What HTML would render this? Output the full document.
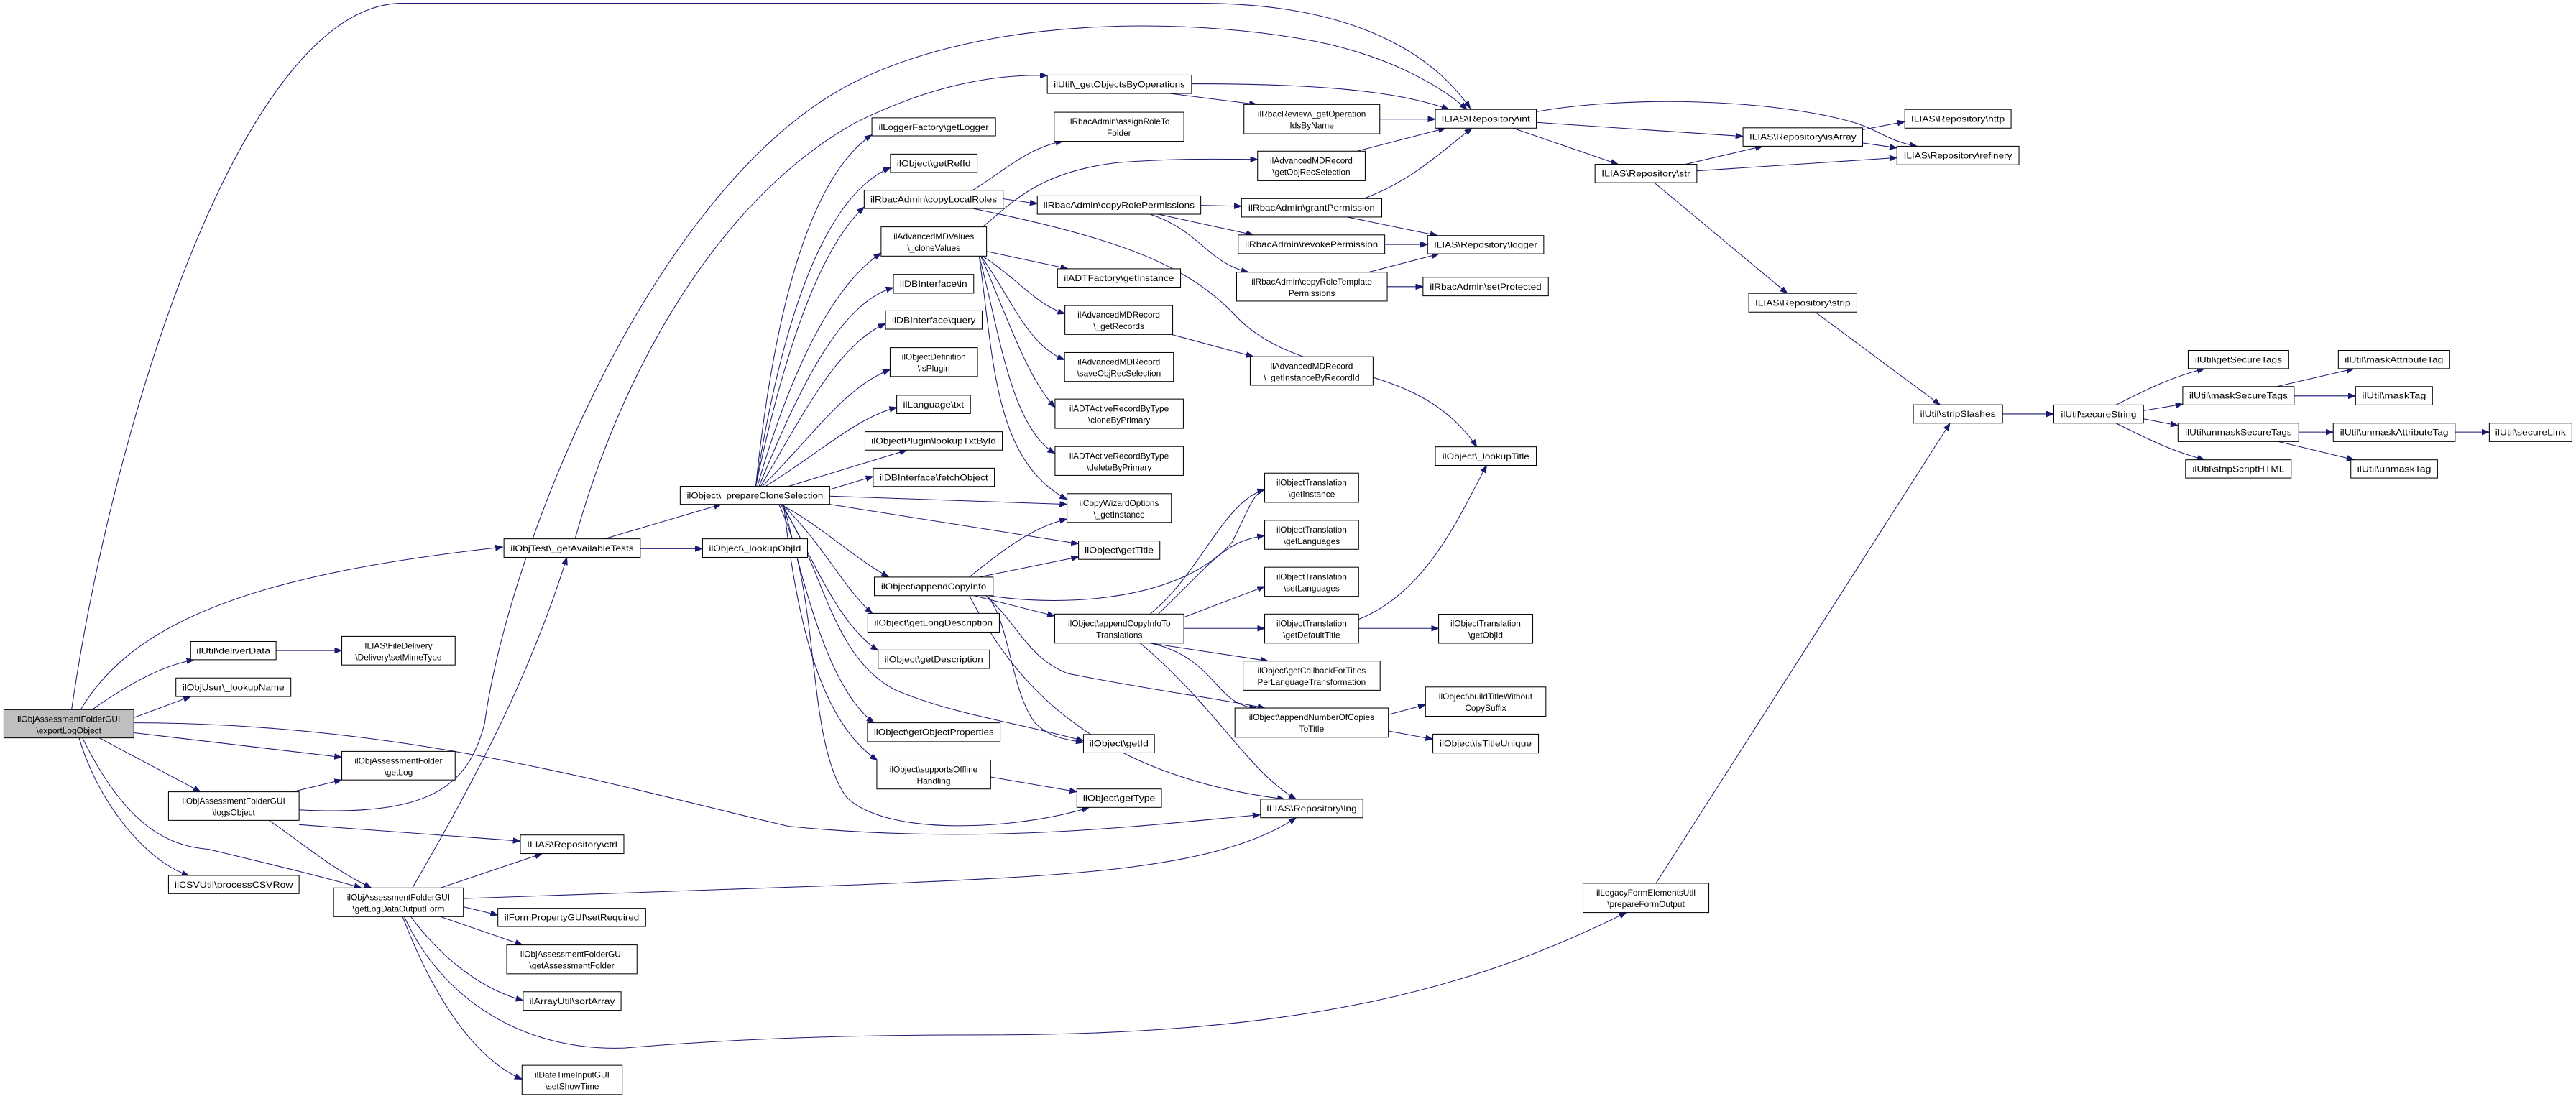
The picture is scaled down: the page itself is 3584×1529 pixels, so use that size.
<!DOCTYPE html>
<html><head><meta charset="utf-8"><style>
html,body{margin:0;padding:0;background:#fff;}
svg{display:block;}
text{font-family:"Liberation Sans",Arial,sans-serif;font-size:5.2px;fill:#000;text-anchor:middle;}
rect{fill:#fff;stroke:#000;stroke-width:0.45;}
path{fill:none;stroke:#191970;stroke-width:0.45;marker-end:url(#ah);}
</style></head><body>
<svg width="3584" height="1529" viewBox="0 0 1568 669" xmlns="http://www.w3.org/2000/svg">
<defs><marker id="ah" markerUnits="userSpaceOnUse" markerWidth="6" markerHeight="5" refX="4.5" refY="1.75" orient="auto"><polygon points="0,0 4.5,1.75 0,3.5" fill="#191970" stroke="#191970" stroke-width="0.3"/></marker></defs>

<!-- edges -->
<path d="M43.5,432 C70,250 150,2 245,2 L730,2 C820,2 870,30 895,66"/>
<path d="M49,432 C80,380 150,350 306,333"/>
<path d="M56,432 C80,415 100,405 118,401.6"/>
<path d="M81,437 L116,424"/>
<path d="M81,440 C250,440 380,480 480,503 C600,515 700,502 767,496"/>
<path d="M81,446 L208,461"/>
<path d="M60,449 L122,482"/>
<path d="M48,449 C60,490 90,525 115,533"/>
<path d="M50,449 C75,500 100,515 127,517 C160,525 190,532 220,540.5"/>
<path d="M182,493 C260,497 285,480 295,440 C310,330 400,110 520,50 C600,10 720,10 800,25 C850,35 880,55 893,66.6"/>
<path d="M350,328 C380,220 440,120 520,75 C570,50 610,45 637.5,46"/>
<path d="M368,328 L439,307"/>
<path d="M389.7,334 L427.6,334"/>
<path d="M178,482 L208,474.8"/>
<path d="M182,502 L316.7,512"/>
<path d="M163,499 C180,510 200,528 226,540.5"/>
<path d="M251,540.5 C280,490 320,420 345,339.3"/>
<path d="M268,540.5 L330,519.6"/>
<path d="M282,552 L303,557"/>
<path d="M268,558 L318,575.2"/>
<path d="M250,558 C270,585 295,603 318.4,609"/>
<path d="M245,558 C265,610 290,645 317.7,657"/>
<path d="M282,547 L525,538.5 C650,533 740,530 789,497.8"/>
<path d="M246,558 C270,610 320,640 380,638 C450,632 520,630 600,630 C800,630 900,600 990,555.5"/>
<path d="M168,396 L208,396"/>
<path d="M1008,537.7 L1187,257.6"/>

<path d="M460,296 C470,200 490,110 530.7,82"/>
<path d="M460,296 C475,200 500,120 542,102"/>
<path d="M460,296 C478,210 500,150 526,126"/>
<path d="M461,296 C480,230 505,175 536.3,154"/>
<path d="M462,296 C485,240 510,185 543.8,175"/>
<path d="M463,296 C490,250 510,210 539,197"/>
<path d="M464,296 C495,265 515,235 541.8,225"/>
<path d="M466,296 C500,275 520,255 545.8,248"/>
<path d="M480,296 L552,274"/>
<path d="M505,298 L531.5,290"/>
<path d="M505,302 L649.5,307"/>
<path d="M505,307 L656.5,331"/>
<path d="M475,307 C500,320 520,340 541,351.3"/>
<path d="M476,307 C500,330 515,360 531,373.4"/>
<path d="M476,307 C495,340 510,380 534.5,396"/>
<path d="M477,307 C490,360 505,420 532,440"/>
<path d="M477,307 C485,380 500,440 534,462.7"/>
<path d="M475,307 C500,340 505,400 545,420 C580,435 620,440 659.5,451"/>
<path d="M474,307 C500,360 490,450 515,485 C540,510 620,505 663,491.5"/>

<path d="M598,138.1 C615,125 630,105 680,99 C720,96 745,97 765.5,97"/>
<path d="M600.5,153 L650,163.6"/>
<path d="M598,155.9 C620,170 630,185 648.2,191"/>
<path d="M597,155.9 C615,180 625,210 648,219"/>
<path d="M597,155.9 C612,190 625,230 642.2,248"/>
<path d="M596,155.9 C608,200 615,260 642.2,276"/>
<path d="M596,155.9 C605,220 605,280 649.5,304"/>
<path d="M592,115.8 C610,105 625,90 647,86"/>
<path d="M610.6,121 L631.4,124"/>
<path d="M592,126.9 C680,145 720,160 750,190 C790,235 860,215 899,272"/>
<path d="M730.9,125 L755.7,125.5"/>
<path d="M705,130.4 L763,143"/>
<path d="M700,130.4 C730,140 735,160 760,165.7"/>
<path d="M830,120.9 C860,110 880,90 896,78"/>
<path d="M820,132.1 L875,143.4"/>
<path d="M826,92 L880,78"/>
<path d="M842.9,148.8 L869,148.8"/>
<path d="M833,165.7 L876,154.5"/>
<path d="M844.4,174.5 L866.2,174.5"/>
<path d="M839.9,72.5 L873.7,72.5"/>
<path d="M725.3,51 C800,51 850,55 882,66.6"/>
<path d="M712,56.9 L765,63.6"/>
<path d="M713,203.6 L763,217.1"/>

<path d="M935.2,74.5 L1061,83"/>
<path d="M935.2,68 C990,58 1080,60 1130,75 C1145,80 1150,86 1167,89"/>
<path d="M921,78 L985,100"/>
<path d="M1026,100 L1073,89"/>
<path d="M1032.9,104 L1154.7,96"/>
<path d="M1133.8,79 L1159.5,74"/>
<path d="M1133.8,87 L1154.7,90"/>
<path d="M1007,111.2 L1088,178.6"/>
<path d="M1105,190 L1181,246.4"/>
<path d="M1219,252 L1250.2,252"/>
<path d="M1288,246.5 C1305,238 1320,230 1342,224.4"/>
<path d="M1304.8,250 L1328.7,246"/>
<path d="M1304.8,255 L1325.8,259"/>
<path d="M1288,257.6 C1305,266 1320,274 1342,279.9"/>
<path d="M1386,235.3 L1433,224.4"/>
<path d="M1396.5,241 L1433.9,241"/>
<path d="M1399.3,263 L1420.3,263"/>
<path d="M1387,268.8 L1433,279.9"/>
<path d="M1494.5,263 L1515.3,263"/>

<path d="M590,351.3 C610,335 630,320 649.5,316"/>
<path d="M596,351.3 L656.5,339"/>
<path d="M593,362.6 L642,375"/>
<path d="M602,362.6 C650,370 720,365 750,330 C760,310 763,300 769.8,298"/>
<path d="M601,362.6 C615,380 615,420 630,440 C640,450 650,450 659.5,452"/>
<path d="M600,362.6 C620,380 625,400 650,410 C700,420 740,425 770,431"/>
<path d="M590,362.6 C610,400 650,470 782,486.5"/>
<path d="M700,373.8 C730,350 745,305 769.8,298"/>
<path d="M705,373.8 C740,340 745,330 769.8,326"/>
<path d="M720,376 L769.8,357"/>
<path d="M720.6,382.5 L769.8,382.5"/>
<path d="M700,391.5 L772,402.4"/>
<path d="M700,391.5 C740,400 740,430 765,431"/>
<path d="M694,391.5 C740,430 760,470 789,486.5"/>
<path d="M827,382.5 L875.7,382.5"/>
<path d="M827,377 C870,360 890,310 905,283.3"/>
<path d="M845.1,435 L867.7,429"/>
<path d="M845.1,445 L872.2,450"/>
<path d="M603,473 L655.5,482"/>

<!-- nodes -->
<rect x="2.3" y="432" width="79.1" height="17.2" style="fill:#bfbfbf"/><text x="41.8" y="439.5">ilObjAssessmentFolderGUI</text><text x="41.8" y="446.5">\exportLogObject</text>
<rect x="306.7" y="328" width="83" height="11.3"/><text x="348.2" y="335.5" textLength="75" lengthAdjust="spacingAndGlyphs">ilObjTest\_getAvailableTests</text>
<rect x="427.6" y="328" width="63.9" height="11.3"/><text x="459.5" y="335.5" textLength="56" lengthAdjust="spacingAndGlyphs">ilObject\_lookupObjId</text>
<rect x="414" y="296" width="91" height="11"/><text x="459.5" y="303.4" textLength="83" lengthAdjust="spacingAndGlyphs">ilObject\_prepareCloneSelection</text>
<rect x="116" y="390.5" width="52" height="11.1"/><text x="142" y="397.9" textLength="45" lengthAdjust="spacingAndGlyphs">ilUtil\deliverData</text>
<rect x="208" y="387.4" width="69" height="17.4"/><text x="242.5" y="394.8">ILIAS\FileDelivery</text><text x="242.5" y="401.8">\Delivery\setMimeType</text>
<rect x="107" y="412.7" width="70" height="11.3"/><text x="142" y="420.2" textLength="62" lengthAdjust="spacingAndGlyphs">ilObjUser\_lookupName</text>
<rect x="208" y="457.4" width="69" height="17.4"/><text x="242.5" y="464.8">ilObjAssessmentFolder</text><text x="242.5" y="471.8">\getLog</text>
<rect x="102.5" y="482" width="79.5" height="17.4"/><text x="142.2" y="489.4">ilObjAssessmentFolderGUI</text><text x="142.2" y="496.4">\logsObject</text>
<rect x="316.7" y="508.3" width="63" height="11.3"/><text x="348.2" y="515.8" textLength="55" lengthAdjust="spacingAndGlyphs">ILIAS\Repository\ctrl</text>
<rect x="102.5" y="532.9" width="79.5" height="11.1"/><text x="142.2" y="540.3" textLength="72" lengthAdjust="spacingAndGlyphs">ilCSVUtil\processCSVRow</text>
<rect x="203" y="540.5" width="79" height="17.5"/><text x="242.5" y="548">ilObjAssessmentFolderGUI</text><text x="242.5" y="555">\getLogDataOutputForm</text>
<rect x="303" y="552.9" width="90" height="11.1"/><text x="348" y="560.3" textLength="82" lengthAdjust="spacingAndGlyphs">ilFormPropertyGUI\setRequired</text>
<rect x="308.4" y="575.2" width="79.3" height="17.6"/><text x="348" y="582.7">ilObjAssessmentFolderGUI</text><text x="348" y="589.7">\getAssessmentFolder</text>
<rect x="318.4" y="603.7" width="59.6" height="11.3"/><text x="348.2" y="611.2" textLength="52" lengthAdjust="spacingAndGlyphs">ilArrayUtil\sortArray</text>
<rect x="317.7" y="648.5" width="61" height="17.8"/><text x="348.2" y="656">ilDateTimeInputGUI</text><text x="348.2" y="663">\setShowTime</text>

<rect x="637.5" y="45.7" width="87.8" height="11.2"/><text x="681.4" y="53.1" textLength="80" lengthAdjust="spacingAndGlyphs">ilUtil\_getObjectsByOperations</text>
<rect x="757.2" y="63.6" width="82.7" height="17.8"/><text x="798.5" y="71.1">ilRbacReview\_getOperation</text><text x="798.5" y="78.1">IdsByName</text>
<rect x="873.7" y="66.6" width="61.5" height="11.4"/><text x="904.4" y="74.1" textLength="54" lengthAdjust="spacingAndGlyphs">ILIAS\Repository\int</text>
<rect x="530.7" y="71.7" width="75.3" height="11"/><text x="568.3" y="79.1" textLength="67" lengthAdjust="spacingAndGlyphs">ilLoggerFactory\getLogger</text>
<rect x="641.7" y="68.3" width="78.9" height="17.7"/><text x="681.1" y="75.8">ilRbacAdmin\assignRoleTo</text><text x="681.1" y="82.8">Folder</text>
<rect x="542" y="93.8" width="52.8" height="11.2"/><text x="568.4" y="101.2" textLength="45" lengthAdjust="spacingAndGlyphs">ilObject\getRefId</text>
<rect x="765.5" y="92" width="65.5" height="18"/><text x="798.2" y="99.6">ilAdvancedMDRecord</text><text x="798.2" y="106.6">\getObjRecSelection</text>
<rect x="526" y="115.8" width="84.6" height="11.1"/><text x="568.3" y="123.2" textLength="77" lengthAdjust="spacingAndGlyphs">ilRbacAdmin\copyLocalRoles</text>
<rect x="631.4" y="119.2" width="99.5" height="11.2"/><text x="681.1" y="126.6" textLength="92" lengthAdjust="spacingAndGlyphs">ilRbacAdmin\copyRolePermissions</text>
<rect x="755.7" y="120.9" width="85.4" height="11.2"/><text x="798.4" y="128.3" textLength="77" lengthAdjust="spacingAndGlyphs">ilRbacAdmin\grantPermission</text>
<rect x="536.3" y="138.1" width="64.2" height="17.8"/><text x="568.4" y="145.6">ilAdvancedMDValues</text><text x="568.4" y="152.6">\_cloneValues</text>
<rect x="753.7" y="143" width="89.2" height="11.4"/><text x="798.3" y="150.5" textLength="81" lengthAdjust="spacingAndGlyphs">ilRbacAdmin\revokePermission</text>
<rect x="869" y="143.4" width="70.7" height="11.1"/><text x="904.3" y="150.8" textLength="63" lengthAdjust="spacingAndGlyphs">ILIAS\Repository\logger</text>
<rect x="643.7" y="163.6" width="74.9" height="11.2"/><text x="681.1" y="171" textLength="67" lengthAdjust="spacingAndGlyphs">ilADTFactory\getInstance</text>
<rect x="752.7" y="165.7" width="91.7" height="17.6"/><text x="798.5" y="173.2">ilRbacAdmin\copyRoleTemplate</text><text x="798.5" y="180.2">Permissions</text>
<rect x="866.2" y="168.8" width="76.3" height="11.3"/><text x="904.3" y="176.3" textLength="68" lengthAdjust="spacingAndGlyphs">ilRbacAdmin\setProtected</text>
<rect x="543.8" y="167" width="48.9" height="11.5"/><text x="568.2" y="174.6" textLength="41" lengthAdjust="spacingAndGlyphs">ilDBInterface\in</text>
<rect x="648.2" y="186" width="65.6" height="17.6"/><text x="681" y="193.5">ilAdvancedMDRecord</text><text x="681" y="200.5">\_getRecords</text>
<rect x="539" y="189.2" width="58.8" height="11.2"/><text x="568.4" y="196.6" textLength="51" lengthAdjust="spacingAndGlyphs">ilDBInterface\query</text>
<rect x="541.8" y="211.6" width="53.2" height="17.6"/><text x="568.4" y="219.1">ilObjectDefinition</text><text x="568.4" y="226.1">\isPlugin</text>
<rect x="648" y="214.6" width="66.3" height="17.6"/><text x="681.1" y="222.1">ilAdvancedMDRecord</text><text x="681.1" y="229.1">\saveObjRecSelection</text>
<rect x="761" y="217.1" width="74.8" height="17.4"/><text x="798.4" y="224.6">ilAdvancedMDRecord</text><text x="798.4" y="231.6">\_getInstanceByRecordId</text>
<rect x="545.8" y="240.6" width="44.9" height="11.2"/><text x="568.2" y="248" textLength="37" lengthAdjust="spacingAndGlyphs">ilLanguage\txt</text>
<rect x="642.2" y="242.9" width="78.1" height="17.9"/><text x="681.2" y="250.5">ilADTActiveRecordByType</text><text x="681.2" y="257.5">\cloneByPrimary</text>
<rect x="526.5" y="262.8" width="83.6" height="11.2"/><text x="568.3" y="270.2" textLength="76" lengthAdjust="spacingAndGlyphs">ilObjectPlugin\lookupTxtById</text>
<rect x="642.2" y="271.8" width="78.1" height="17.6"/><text x="681.2" y="279.3">ilADTActiveRecordByType</text><text x="681.2" y="286.3">\deleteByPrimary</text>
<rect x="531.5" y="285" width="73.8" height="11.1"/><text x="568.4" y="292.4" textLength="66" lengthAdjust="spacingAndGlyphs">ilDBInterface\fetchObject</text>
<rect x="649.5" y="300.5" width="63.5" height="17.5"/><text x="681.2" y="308">ilCopyWizardOptions</text><text x="681.2" y="315">\_getInstance</text>
<rect x="769.8" y="288" width="57.2" height="17.8"/><text x="798.4" y="295.5">ilObjectTranslation</text><text x="798.4" y="302.5">\getInstance</text>
<rect x="873.7" y="272" width="61.5" height="11.3"/><text x="904.4" y="279.5" textLength="53" lengthAdjust="spacingAndGlyphs">ilObject\_lookupTitle</text>
<rect x="656.5" y="329.3" width="49.5" height="11.2"/><text x="681.2" y="336.7" textLength="42" lengthAdjust="spacingAndGlyphs">ilObject\getTitle</text>
<rect x="769.8" y="316.7" width="57.2" height="17.7"/><text x="798.4" y="324.2">ilObjectTranslation</text><text x="798.4" y="331.2">\getLanguages</text>
<rect x="769.8" y="345.3" width="57.2" height="17.7"/><text x="798.4" y="352.8">ilObjectTranslation</text><text x="798.4" y="359.8">\setLanguages</text>
<rect x="532.2" y="351.3" width="72.3" height="11.3"/><text x="568.3" y="358.8" textLength="64" lengthAdjust="spacingAndGlyphs">ilObject\appendCopyInfo</text>
<rect x="528.2" y="373.4" width="80.1" height="11.4"/><text x="568.2" y="380.9" textLength="72" lengthAdjust="spacingAndGlyphs">ilObject\getLongDescription</text>
<rect x="642" y="373.8" width="78.6" height="17.7"/><text x="681.3" y="381.3">ilObject\appendCopyInfoTo</text><text x="681.3" y="388.3">Translations</text>
<rect x="769.8" y="373.8" width="57.2" height="17.7"/><text x="798.4" y="381.3">ilObjectTranslation</text><text x="798.4" y="388.3">\getDefaultTitle</text>
<rect x="875.7" y="373.9" width="57.3" height="17.7"/><text x="904.3" y="381.4">ilObjectTranslation</text><text x="904.3" y="388.4">\getObjId</text>
<rect x="534.5" y="395.7" width="67.8" height="11.2"/><text x="568.4" y="403.1" textLength="60" lengthAdjust="spacingAndGlyphs">ilObject\getDescription</text>
<rect x="756.7" y="402.4" width="83.4" height="17.8"/><text x="798.4" y="409.9">ilObject\getCallbackForTitles</text><text x="798.4" y="416.9">PerLanguageTransformation</text>
<rect x="867.7" y="418.2" width="73.3" height="17.8"/><text x="904.3" y="425.7">ilObject\buildTitleWithout</text><text x="904.3" y="432.7">CopySuffix</text>
<rect x="751.7" y="431" width="93.4" height="17.8"/><text x="798.4" y="438.5">ilObject\appendNumberOfCopies</text><text x="798.4" y="445.5">ToTitle</text>
<rect x="528" y="440" width="80.8" height="11.5"/><text x="568.4" y="447.5" textLength="73" lengthAdjust="spacingAndGlyphs">ilObject\getObjectProperties</text>
<rect x="659.5" y="447.1" width="43.2" height="11.2"/><text x="681.1" y="454.5" textLength="36" lengthAdjust="spacingAndGlyphs">ilObject\getId</text>
<rect x="872.2" y="446.9" width="64.3" height="11.5"/><text x="904.3" y="454.4" textLength="56" lengthAdjust="spacingAndGlyphs">ilObject\isTitleUnique</text>
<rect x="533.7" y="462.7" width="69.3" height="17.6"/><text x="568.3" y="470.2">ilObject\supportsOffline</text><text x="568.3" y="477.2">Handling</text>
<rect x="655.5" y="480.3" width="51.5" height="11.2"/><text x="681.2" y="487.7" textLength="44" lengthAdjust="spacingAndGlyphs">ilObject\getType</text>
<rect x="767.3" y="486.5" width="62.3" height="11.3"/><text x="798.4" y="494" textLength="55" lengthAdjust="spacingAndGlyphs">ILIAS\Repository\lng</text>
<rect x="963.6" y="537.7" width="76.6" height="17.8"/><text x="1001.9" y="545.2">ilLegacyFormElementsUtil</text><text x="1001.9" y="552.2">\prepareFormOutput</text>

<rect x="1061" y="77.8" width="72.8" height="11.2"/><text x="1097.4" y="85.2" textLength="65" lengthAdjust="spacingAndGlyphs">ILIAS\Repository\isArray</text>
<rect x="1159.5" y="66.6" width="64.7" height="11.4"/><text x="1191.8" y="74.1" textLength="57" lengthAdjust="spacingAndGlyphs">ILIAS\Repository\http</text>
<rect x="1154.7" y="89" width="74.3" height="11.3"/><text x="1191.8" y="96.5" textLength="66" lengthAdjust="spacingAndGlyphs">ILIAS\Repository\refinery</text>
<rect x="970.9" y="100" width="62" height="11.2"/><text x="1001.9" y="107.4" textLength="54" lengthAdjust="spacingAndGlyphs">ILIAS\Repository\str</text>
<rect x="1064.5" y="178.6" width="65.8" height="11.4"/><text x="1097.4" y="186.1" textLength="58" lengthAdjust="spacingAndGlyphs">ILIAS\Repository\strip</text>
<rect x="1164.7" y="246.4" width="54.3" height="11.2"/><text x="1191.8" y="253.8" textLength="46" lengthAdjust="spacingAndGlyphs">ilUtil\stripSlashes</text>
<rect x="1250.2" y="246.5" width="54.6" height="11.1"/><text x="1277.5" y="253.9" textLength="46" lengthAdjust="spacingAndGlyphs">ilUtil\secureString</text>
<rect x="1332" y="213.3" width="61.2" height="11.1"/><text x="1362.6" y="220.7" textLength="53" lengthAdjust="spacingAndGlyphs">ilUtil\getSecureTags</text>
<rect x="1328.7" y="235.3" width="67.8" height="11.2"/><text x="1362.6" y="242.7" textLength="60" lengthAdjust="spacingAndGlyphs">ilUtil\maskSecureTags</text>
<rect x="1325.8" y="257.6" width="73.5" height="11.2"/><text x="1362.6" y="265" textLength="65" lengthAdjust="spacingAndGlyphs">ilUtil\unmaskSecureTags</text>
<rect x="1330.4" y="279.9" width="64.3" height="11.1"/><text x="1362.6" y="287.3" textLength="56" lengthAdjust="spacingAndGlyphs">ilUtil\stripScriptHTML</text>
<rect x="1423.4" y="213.3" width="67.8" height="11.1"/><text x="1457.3" y="220.7" textLength="60" lengthAdjust="spacingAndGlyphs">ilUtil\maskAttributeTag</text>
<rect x="1433.9" y="235.3" width="46.8" height="11.2"/><text x="1457.3" y="242.7" textLength="39" lengthAdjust="spacingAndGlyphs">ilUtil\maskTag</text>
<rect x="1420.3" y="257.6" width="74.2" height="11.2"/><text x="1457.4" y="265" textLength="66" lengthAdjust="spacingAndGlyphs">ilUtil\unmaskAttributeTag</text>
<rect x="1431" y="279.9" width="52.8" height="11.1"/><text x="1457.4" y="287.3" textLength="45" lengthAdjust="spacingAndGlyphs">ilUtil\unmaskTag</text>
<rect x="1515.3" y="257.6" width="50.3" height="11.2"/><text x="1540.4" y="265" textLength="43" lengthAdjust="spacingAndGlyphs">ilUtil\secureLink</text>
</svg>
</body></html>
